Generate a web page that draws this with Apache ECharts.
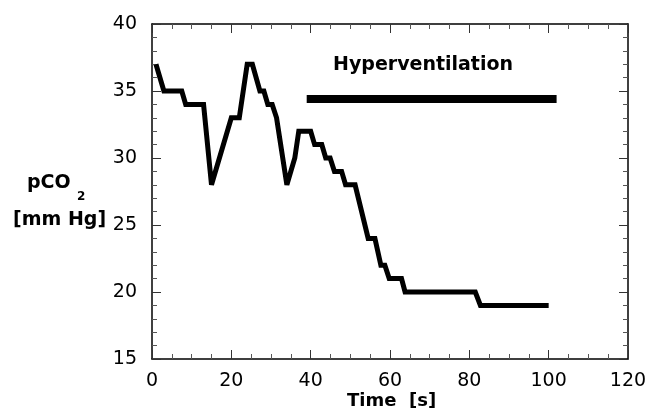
<!DOCTYPE html>
<html>
<head>
<meta charset="utf-8">
<script src="https://cdn.jsdelivr.net/npm/echarts@6/dist/echarts.min.js"></script>
<style>
html,body{margin:0;padding:0;background:#fff;}
#chart{width:650px;height:415px;}
</style>
</head>
<body>
<div id="chart"></div>
<script>
// pCO2 trace: time [s] and value [mm Hg]
const timeS = [1, 3, 7.5, 8.5, 13, 15, 20, 22, 24, 25.3, 27.2, 28.2, 29.2, 30.3, 31.4, 34, 36, 37, 40, 41, 42.8, 43.8, 44.9, 46, 47.8, 48.8, 51.2, 54.5, 56.2, 57.7, 58.7, 59.8, 62.9, 63.8, 81.5, 82.8, 100];
const pco2  = [37, 35, 35, 34, 34, 28, 33, 33, 37, 37, 35, 35, 34, 34, 33, 28, 30, 32, 32, 31, 31, 30, 30, 29, 29, 28, 28, 24, 24, 22, 22, 21, 21, 20, 20, 19, 19];
// Hyperventilation bar
const hyperX = [39, 102];
const hyperY = [34.4, 34.4];
const hyperLabel = 'Hyperventilation';
const xTicks = [0, 20, 40, 60, 80, 100, 120];
const yTicks = [15, 20, 25, 30, 35, 40];

const chart = echarts.init(document.getElementById('chart'), null, {renderer: 'canvas'});
const FONT = 'DejaVu Sans';
const axisCommon = {
  axisLine: {show: true, onZero: false, lineStyle: {color: '#000', width: 1.5}},
  axisTick: {show: true, inside: true, length: 9, lineStyle: {color: '#333', width: 1}},
  splitLine: {show: false}
};
const xMinor = {minorTick: {show: true, splitNumber: 4, length: 5, lineStyle: {color: '#555', width: 1}}};
const yMinor = {minorTick: {show: true, splitNumber: 5, length: 5, lineStyle: {color: '#555', width: 1}}};
chart.setOption({
  animation: false,
  backgroundColor: '#fff',
  grid: {left: 152, top: 24, right: 22, bottom: 56, containLabel: false},
  xAxis: [
    Object.assign({type: 'value', min: xTicks[0], max: xTicks[xTicks.length-1], interval: 20, position: 'bottom',
      axisLabel: {show: true, fontFamily: FONT, fontSize: 19, color: '#000', margin: 13}}, axisCommon, xMinor),
    Object.assign({type: 'value', min: xTicks[0], max: xTicks[xTicks.length-1], interval: 20, position: 'top',
      axisLabel: {show: false}}, axisCommon, xMinor)
  ],
  yAxis: [
    Object.assign({type: 'value', min: yTicks[0], max: yTicks[yTicks.length-1], interval: 5, position: 'left',
      axisLabel: {show: true, fontFamily: FONT, fontSize: 19, color: '#000', margin: 15}}, axisCommon, yMinor),
    Object.assign({type: 'value', min: yTicks[0], max: yTicks[yTicks.length-1], interval: 5, position: 'right',
      axisLabel: {show: false}}, axisCommon, yMinor)
  ],
  series: [
    {type: 'line', xAxisIndex: 0, yAxisIndex: 0, data: timeS.map((t, i) => [t, pco2[i]]),
      showSymbol: false, symbol: 'none', lineStyle: {color: '#000', width: 5, join: 'miter', miterLimit: 4}},
    {type: 'line', xAxisIndex: 0, yAxisIndex: 0, data: hyperX.map((t, i) => [t, hyperY[i]]),
      showSymbol: false, symbol: 'none', lineStyle: {color: '#000', width: 8, cap: 'butt'}}
  ],
  graphic: [
    {type: 'text', left: 333, top: 56, style: {text: hyperLabel, font: 'bold 19px "DejaVu Sans"', fill: '#000'}},
    {type: 'text', left: 347, top: 392, style: {text: 'Time  [s]', font: 'bold 18px "DejaVu Sans"', fill: '#000'}},
    {type: 'text', left: 27, top: 174, style: {text: 'pCO', font: 'bold 19px "DejaVu Sans"', fill: '#000'}},
    {type: 'text', left: 77, top: 191, style: {text: '2', font: 'bold 12px "DejaVu Sans"', fill: '#000'}},
    {type: 'text', left: 13, top: 211, style: {text: '[mm Hg]', font: 'bold 19px "DejaVu Sans"', fill: '#000'}}
  ]
});
</script>
</body>
</html>
